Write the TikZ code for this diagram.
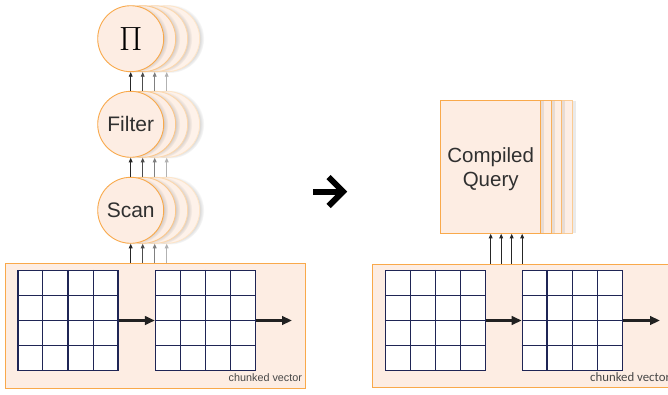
\documentclass[tikz,border=0pt]{standalone}
\usepackage[no-math]{fontspec}
\setmainfont{Liberation Sans}
\newfontfamily\calibfont{Carlito}
\usetikzlibrary{arrows.meta,shadows,calc}

\definecolor{peach}{HTML}{FDEDE3}
\definecolor{amber}{HTML}{F9A94B}
\definecolor{navy}{HTML}{1F2555}
\definecolor{ink}{HTML}{303030}

\begin{document}
\begin{tikzpicture}[x=1pt,y=-1pt,
  panel/.style={draw=amber, fill=peach, line width=1pt, rectangle, inner sep=0},
  gridbox/.style={draw=navy, fill=white, line width=1.2pt, minimum size=100pt, inner sep=0},
  gridline/.style={navy, line width=1.2pt},
  chain/.style={line width=2.6pt, draw=black!87, -{Triangle[length=10pt,width=8.5pt]}},
  feed/.style={line width=0.8pt, -{Triangle[length=4.5pt,width=3.8pt]}},
  op/.style={circle, minimum size=66pt, inner sep=0, line width=0.9pt,
    font=\fontsize{21}{24}\selectfont, text=ink,
    circular drop shadow={shadow xshift=3pt, shadow yshift=0pt, shadow scale=1.04, opacity=.35}},
  qbox/.style={rectangle, minimum width=100pt, minimum height=132.6pt, inner sep=0,
    line width=1pt, align=center, font=\fontsize{20.5}{24}\selectfont, text=ink,
    drop shadow={shadow xshift=3.5pt, shadow yshift=0pt, opacity=.16}},
  note/.style={anchor=base west, text=black!72, inner sep=0}
]
\clip (0,0) rectangle (668,394);
\fill[white] (0,0) rectangle (668,394);

% ---------- left: operator pipeline over a chunked vector ----------
\node[panel, minimum width=300pt, minimum height=125pt] (lp) at (155,325.5) {};
\node[gridbox] (g1) at (68,320.5) {};
\node[gridbox] (g2) at (205.5,320.5) {};
\node[note, font=\fontsize{10.8}{12}\selectfont] (lbl1) at (228.5,381.5) {chunked vector};
\coordinate (tail1) at (292,320.5);
\draw[chain] (g1.east) -- (g2.west);
\draw[chain] (g2.east) -- (tail1);

% stacked operator circles (back copies first)
\foreach \name/\y/\txt in {
    pi/38.7/{\color{black}\fontsize{24.88}{26}\selectfont\scalebox{1.35}{$\Pi$}},
    filter/124.3/Filter,
    scan/210.3/Scan} {
  \foreach \k/\f/\d in {3/75/30, 2/85/45, 1/92/65} {
    \node[op, fill=peach!\f!white, draw=amber!\d!white] (\name\k) at ({130.7+12*\k},\y) {};
  }
  \node[op, fill=peach, draw=amber] (\name0) at (130.7,\y) {\txt};
}

\foreach \k/\c in {0/black!85, 1/black!70, 2/black!50, 3/black!30} {
  \draw[feed, \c] (scan\k.south |- lp.north) -- (scan\k.south);
  \draw[feed, \c] (scan\k.north) -- (filter\k.south);
  \draw[feed, \c] (filter\k.north) -- (pi\k.south);
}

% ---------- middle: transformation arrow ----------
\draw[line width=6pt, black] (313,191.5) -- (340,191.5);
\draw[line width=6pt, black, miter limit=10] (328.5,177) -- (343,191.5) -- (328.5,206);

% ---------- right: compiled query over a chunked vector ----------
\node[panel, minimum width=320pt, minimum height=123.7pt] (rp) at (532.7,325.9) {};
\node[gridbox] (g3) at (435.5,320.5) {};
\node[gridbox] (g4) at (572.3,320.5) {};
\node[note, font=\calibfont\fontsize{12.8}{14}\selectfont] (lbl2) at (590,381.5) {chunked vector};
\coordinate (tail2) at (660,320.5);
\draw[chain] (g3.east) -- (g4.west);
\draw[chain] (g4.east) -- (tail2);

\foreach \k/\f/\d in {3/92/60, 2/96/80, 1/100/92} {
  \node[qbox, fill=peach!\f!white, draw=amber!\d!white] (cq\k) at ({490.7+10.5*\k},167) {};
}
\node[qbox, fill=peach, draw=amber] (cq0) at (490.7,167)
  {\raisebox{-3pt}[\height][\depth]{\begin{tabular}{@{}c@{}}Compiled\\Query\end{tabular}}};

\foreach \k in {0,1,2,3} {
  \draw[feed, black!85] (cq\k.south |- rp.north) -- (cq\k.south);
}

% inner grid lines of every chunk
\foreach \g in {g1,g2,g3,g4} {
  \foreach \t in {0.25,0.5,0.75} {
    \draw[gridline] ($(\g.north west)!\t!(\g.north east)$) -- ($(\g.south west)!\t!(\g.south east)$);
    \draw[gridline] ($(\g.north west)!\t!(\g.south west)$) -- ($(\g.north east)!\t!(\g.south east)$);
  }
}
\end{tikzpicture}
\end{document}
